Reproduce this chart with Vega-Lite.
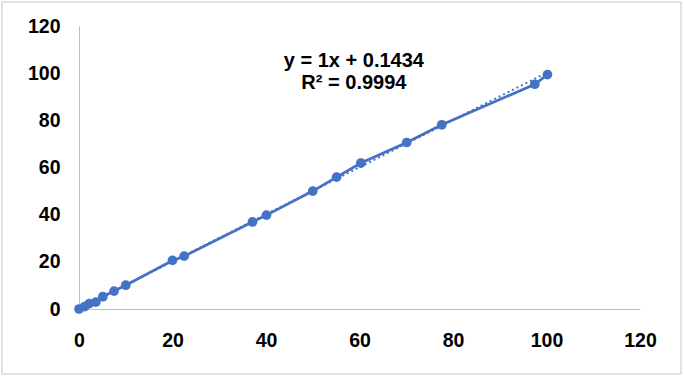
{
  "$schema": "https://vega.github.io/schema/vega-lite/v6.json",
  "width": 679,
  "height": 372,
  "autosize": {"type": "none"},
  "padding": {"left": 2, "top": 2, "right": 4, "bottom": 4},
  "background": "white",
  "config": {
    "view": {"stroke": "#D9D9D9", "strokeWidth": 1.5},
    "font": "Liberation Sans"
  },
  "datasets": {
    "pts": [
      {"x": 0, "y": 0},
      {"x": 1.2, "y": 1.0},
      {"x": 2.2, "y": 2.3},
      {"x": 3.6, "y": 2.9},
      {"x": 5.1, "y": 5.2},
      {"x": 7.5, "y": 7.6},
      {"x": 10, "y": 10.1},
      {"x": 20, "y": 20.6},
      {"x": 22.5, "y": 22.4},
      {"x": 37.1, "y": 36.9},
      {"x": 40.1, "y": 39.8},
      {"x": 50, "y": 50},
      {"x": 55.1, "y": 55.9},
      {"x": 60.3, "y": 61.9},
      {"x": 70.1, "y": 70.6},
      {"x": 77.6, "y": 78.1},
      {"x": 97.5, "y": 95.3},
      {"x": 100.2, "y": 99.4}
    ],
    "trend": [
      {"x": 0, "y": 0.1434},
      {"x": 100, "y": 100.1434}
    ],
    "eq": [
      {"x": 58.8, "y": 105.3, "label": "y = 1x + 0.1434"},
      {"x": 58.8, "y": 95.9, "label": "R² = 0.9994"}
    ]
  },
  "layer": [
    {
      "data": {"name": "trend"},
      "mark": {"type": "line", "color": "#4472C4", "strokeWidth": 2, "strokeDash": [2, 3]},
      "encoding": {
        "x": {"field": "x", "type": "quantitative", "scale": {"domain": [0, 120], "range": [77, 638], "nice": false},
          "axis": {"orient": "bottom", "offset": -65, "values": [0, 20, 40, 60, 80, 100, 120], "title": null, "grid": false, "ticks": false,
            "domainColor": "#BFBFBF", "domainWidth": 1, "labelFontSize": 19.5, "labelFontWeight": "bold", "labelColor": "#000000", "labelPadding": 22, "labelFlush": false}},
        "y": {"field": "y", "type": "quantitative", "scale": {"domain": [0, 120], "range": [307, 24], "nice": false},
          "axis": {"orient": "left", "offset": -77, "values": [0, 20, 40, 60, 80, 100, 120], "title": null, "grid": false, "ticks": false,
            "domainColor": "#BFBFBF", "domainWidth": 1, "labelFontSize": 19.5, "labelFontWeight": "bold", "labelColor": "#000000", "labelPadding": 19, "labelFlush": false}}
      }
    },
    {
      "data": {"name": "pts"},
      "mark": {"type": "line", "color": "#4472C4", "strokeWidth": 2.75},
      "encoding": {
        "x": {"field": "x", "type": "quantitative"},
        "y": {"field": "y", "type": "quantitative"}
      }
    },
    {
      "data": {"name": "pts"},
      "mark": {"type": "point", "filled": true, "color": "#4472C4", "size": 95, "opacity": 1},
      "encoding": {
        "x": {"field": "x", "type": "quantitative"},
        "y": {"field": "y", "type": "quantitative"}
      }
    },
    {
      "data": {"name": "eq"},
      "mark": {"type": "text", "fontSize": 20, "fontWeight": "bold", "color": "#000000", "align": "center", "baseline": "middle"},
      "encoding": {
        "x": {"field": "x", "type": "quantitative"},
        "y": {"field": "y", "type": "quantitative"},
        "text": {"field": "label"}
      }
    }
  ]
}
